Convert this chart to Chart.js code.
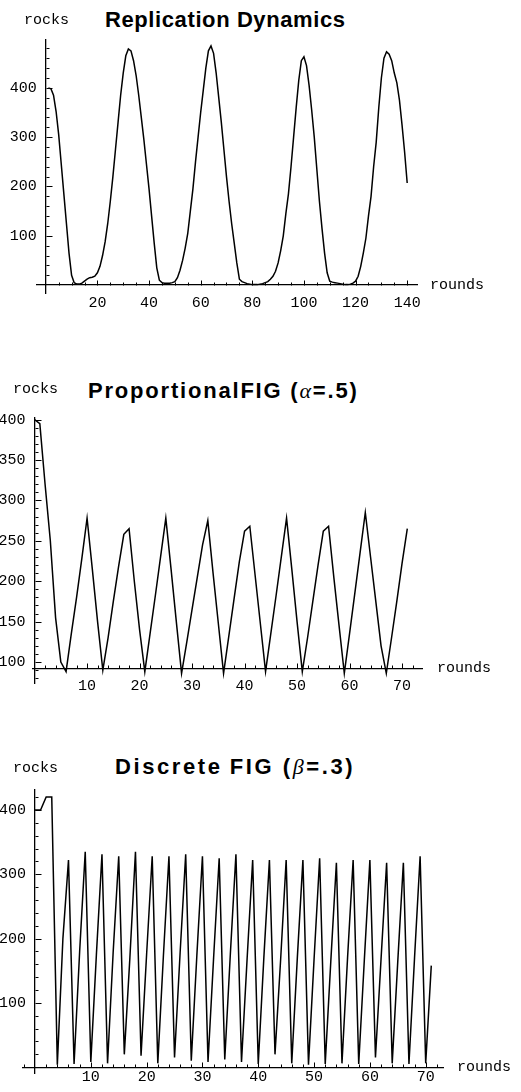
<!DOCTYPE html>
<html>
<head>
<meta charset="utf-8">
<script src="https://cdn.jsdelivr.net/npm/chart.js@4.4.1/dist/chart.umd.min.js"></script>
<style>
  html, body { margin: 0; padding: 0; background: #fff; }
  body { position: relative; width: 521px; height: 1092px; overflow: hidden; }
  .panel { position: absolute; left: 0; width: 521px; }
  .title { position: absolute; font: bold 22px 'Liberation Sans', Arial, sans-serif; line-height: 22px; color: #000; white-space: nowrap; }
  .title i { font-family: 'Liberation Serif', serif; font-weight: normal; }
</style>
</head>
<body>
<div class="title" style="left:105px;top:9px;letter-spacing:0.6px">Replication Dynamics</div>
<div class="title" style="left:88px;top:380px;letter-spacing:1.8px">ProportionalFIG (<i>α</i>=.5)</div>
<div class="title" style="left:115px;top:756px;letter-spacing:2.6px">Discrete&#8201;FIG (<i>β</i>=.3)</div>

<div class="panel" style="top:0;height:320px"><canvas id="repChart" width="521" height="320"></canvas></div>
<div class="panel" style="top:330px;height:380px"><canvas id="propChart" width="521" height="380"></canvas></div>
<div class="panel" style="top:720px;height:372px"><canvas id="discChart" width="521" height="372"></canvas></div>

<script>
// Replication dynamics: rocks per round, starting at round 1
const repStart = 1;
const repRocks = [
    400, 398, 385, 352, 305, 245, 185, 125, 65, 20,
    5, 2, 2, 4, 8, 12, 15, 16, 18, 25,
    38, 60, 88, 125, 170, 220, 275, 330, 385, 430,
    465, 479, 475, 455, 425, 385, 340, 295, 245, 195,
    140, 85, 35, 10, 5, 4, 4, 4, 5, 7,
    15, 30, 50, 75, 105, 150, 195, 250, 300, 350,
    395, 440, 475, 485, 470, 430, 380, 330, 275, 220,
    170, 125, 85, 45, 12, 7, 5, 3, 2, 1,
    1, 1, 2, 3, 5, 7, 12, 18, 28, 45,
    70, 100, 145, 185, 240, 300, 360, 415, 455, 463,
    445, 405, 355, 300, 235, 170, 115, 65, 25, 8,
    6, 5, 4, 3, 2, 1, 1, 2, 4, 8,
    18, 38, 65, 95, 140, 180, 240, 290, 360, 420,
    460, 473, 468, 455, 430, 410, 375, 325, 270, 207
];

// Proportional FIG (alpha = .5), starting at round 0
const propStart = 0;
const propRocks = [
    400, 395, 320, 250, 155, 100, 88, 135, 180, 228,
    278, 215, 150, 90, 130, 175, 218, 258, 265, 200,
    140, 88, 135, 182, 230, 278, 215, 150, 86, 125,
    165, 205, 245, 275, 210, 148, 86, 132, 178, 224,
    262, 268, 208, 148, 88, 135, 182, 230, 278, 215,
    150, 88, 130, 175, 220, 262, 268, 205, 145, 86,
    135, 185, 235, 285, 230, 175, 120, 86, 130, 175,
    222, 265
];

// Discrete FIG (beta = .3), starting at round 0
const discStart = 0;
const discRocks = [
    400, 400, 420, 420, 4, 200, 322, 5, 180, 335,
    8, 175, 331, 6, 178, 328, 20, 170, 335, 18,
    176, 328, 6, 172, 328, 15, 178, 331, 10, 174,
    328, 8, 170, 325, 12, 176, 331, 8, 168, 322,
    5, 170, 322, 20, 166, 322, 6, 170, 322, 4,
    168, 325, 5, 165, 318, 6, 170, 322, 5, 166,
    322, 15, 168, 318, 6, 165, 318, 5, 170, 328,
    6, 158
];

const monoFont = { family: "'Liberation Mono', 'DejaVu Sans Mono', monospace", size: 15 };

// Mathematica-like axes: inner tick marks plus axis names at the ends
const mmaAxes = {
    id: 'mmaAxes',
    afterDraw (chart, args, opts) {
        const ctx = chart.ctx;
        const xs = chart.scales.x;
        const ys = chart.scales.y;
        const axisY = Math.round(ys.getPixelForValue(opts.xAt)) + 0.5;
        const axisX = Math.round(xs.getPixelForValue(0)) + 0.5;

        ctx.save();
        ctx.strokeStyle = '#000';
        ctx.lineWidth = 1;
        ctx.beginPath();
        for (let v = Math.ceil(xs.min / opts.xMinor) * opts.xMinor; v <= xs.max; v += opts.xMinor) {
            if (v === 0) continue;
            const px = Math.round(xs.getPixelForValue(v)) + 0.5;
            const len = v % opts.xMajor === 0 ? 5 : 3;
            ctx.moveTo(px, axisY);
            ctx.lineTo(px, axisY - len);
        }
        for (let v = Math.ceil(ys.min / opts.yMinor) * opts.yMinor; v <= ys.max; v += opts.yMinor) {
            if (v === opts.xAt) continue;
            const py = Math.round(ys.getPixelForValue(v)) + 0.5;
            const len = v % opts.yMajor === 0 ? 6 : 3;
            ctx.moveTo(axisX, py);
            ctx.lineTo(axisX + len, py);
        }
        ctx.stroke();

        ctx.fillStyle = '#000';
        ctx.font = `${monoFont.size}px ${monoFont.family}`;
        ctx.textAlign = 'center';
        ctx.textBaseline = 'alphabetic';
        ctx.fillText('rocks', axisX, ys.top - opts.yNameGap);
        ctx.textAlign = 'left';
        ctx.textBaseline = 'middle';
        ctx.fillText('rounds', xs.right + opts.xNameGap, axisY);
        ctx.restore();
    }
};

function toPoints (start, values) {
    return values.map((v, i) => ({ x: start + i, y: v }));
}

function makeChart (canvasId, points, cfg) {
    return new Chart(document.getElementById(canvasId), {
        type: 'line',
        data: {
            datasets: [{
                data: points,
                borderColor: '#000',
                borderWidth: 1.5,
                pointRadius: 0,
                tension: 0,
                clip: false
            }]
        },
        options: {
            responsive: false,
            animation: false,
            events: [],
            layout: { padding: cfg.padding },
            plugins: {
                legend: { display: false },
                tooltip: { enabled: false },
                mmaAxes: cfg.axes
            },
            scales: {
                x: {
                    type: 'linear',
                    min: cfg.xMin,
                    max: cfg.xMax,
                    position: { y: cfg.axes.xAt },
                    grid: { display: false },
                    border: { color: '#000', width: 1.3 },
                    ticks: {
                        stepSize: cfg.axes.xMajor,
                        includeBounds: false,
                        autoSkip: false,
                        maxRotation: 0,
                        padding: cfg.xPad,
                        color: '#000',
                        font: monoFont,
                        callback: v => (v > 0 ? v : '')
                    }
                },
                y: {
                    type: 'linear',
                    min: cfg.yMin,
                    max: cfg.yMax,
                    position: { x: 0 },
                    grid: { display: false },
                    border: { color: '#000', width: 1.3 },
                    ticks: {
                        stepSize: cfg.axes.yMajor,
                        includeBounds: false,
                        autoSkip: false,
                        color: '#000',
                        font: monoFont,
                        // trailing space keeps the right-aligned label off the axis line
                        callback: v => (v > cfg.axes.xAt ? v + ' ' : '')
                    }
                }
            }
        },
        plugins: [mmaAxes]
    });
}

makeChart('repChart', toPoints(repStart, repRocks), {
    padding: { left: 37, right: 104, top: 40, bottom: 27 },
    xMin: -3.4, xMax: 143.8, yMin: -16, yMax: 497, xPad: 1,
    axes: { xAt: 0, xMajor: 20, xMinor: 5, yMajor: 100, yMinor: 20, yNameGap: 16, xNameGap: 13 }
});

makeChart('propChart', toPoints(propStart, propRocks), {
    padding: { left: 33, right: 99, top: 88, bottom: 27 },
    xMin: -0.3, xMax: 73.8, yMin: 74, yMax: 402, xPad: 1,
    axes: { xAt: 92, xMajor: 10, xMinor: 2, yMajor: 50, yMinor: 10, yNameGap: 25, xNameGap: 15 }
});

makeChart('discChart', toPoints(discStart, discRocks), {
    padding: { left: 23, right: 78, top: 70, bottom: 19 },
    xMin: -2.15, xMax: 73.1, yMin: -9, yMax: 431, xPad: -7,
    axes: { xAt: 0, xMajor: 10, xMinor: 2, yMajor: 100, yMinor: 20, yNameGap: 18, xNameGap: 14 }
});
</script>
</body>
</html>
